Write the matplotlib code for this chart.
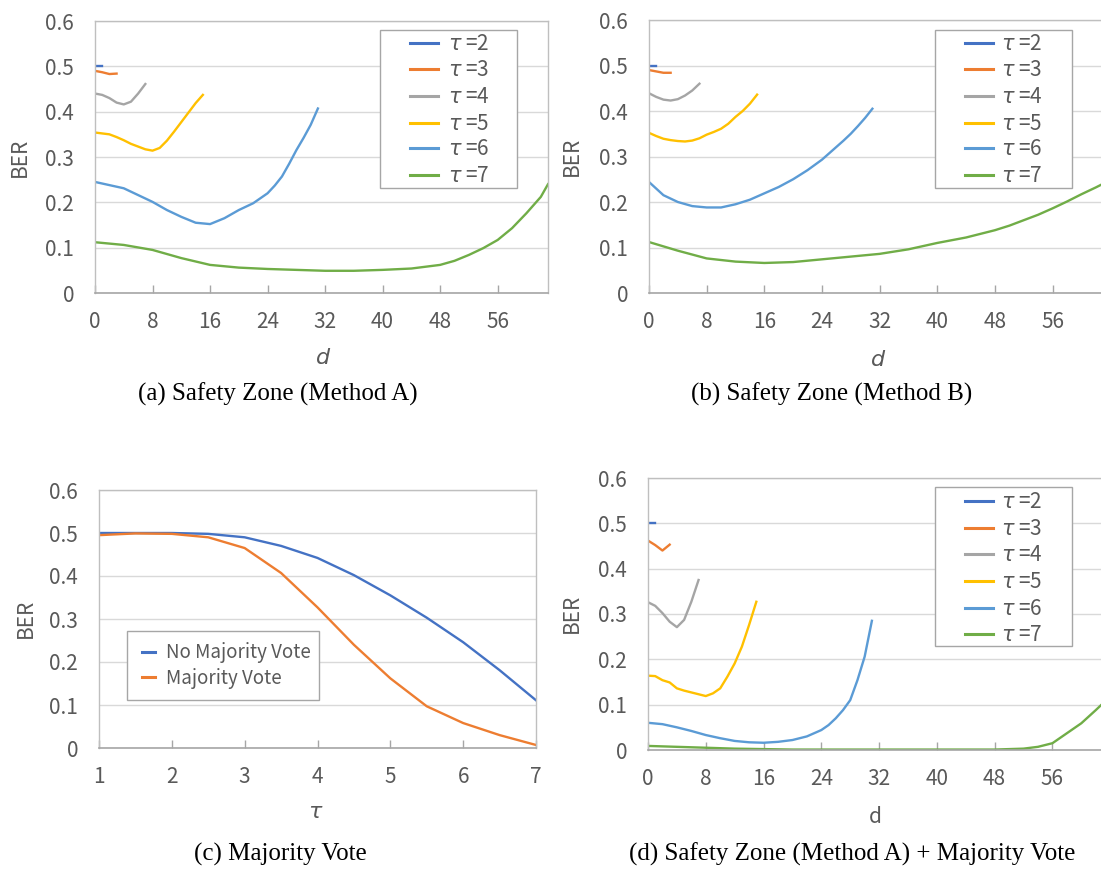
import matplotlib
matplotlib.use("Agg")
import matplotlib.pyplot as plt
from matplotlib.lines import Line2D
from matplotlib.patches import Rectangle
from matplotlib.ticker import FuncFormatter

W, H = 1101, 872
plt.rcParams['font.family'] = ['Noto Sans CJK JP', 'DejaVu Sans']

# ---- data: x positions (d) for each tau ----
d_t2 = [0, 1]
d_t3 = [0, 1, 2, 3]
d_t4 = [0, 1, 2, 3, 4, 5, 6, 7]
d_t5 = [0, 1, 2, 3, 4, 5, 6, 7, 8, 9, 10, 11, 12, 13, 14, 15]
d_t6 = [0, 2, 4, 6, 8, 10, 12, 14, 16, 18, 20, 22, 24, 25, 26, 27, 28, 29, 30, 31]
d_t7 = [0, 4, 8, 12, 16, 20, 24, 28, 32, 36, 40, 44, 48, 50, 52, 54, 56, 58, 60, 62, 63]

# (a) Safety Zone, Method A
ber_a2 = [0.500, 0.500]
ber_a3 = [0.490, 0.487, 0.483, 0.484]
ber_a4 = [0.440, 0.437, 0.430, 0.420, 0.416, 0.422, 0.440, 0.461]
ber_a5 = [0.354, 0.352, 0.350, 0.344, 0.337, 0.329, 0.323, 0.317,
          0.314, 0.320, 0.336, 0.356, 0.377, 0.398, 0.419, 0.437]
ber_a6 = [0.245, 0.238, 0.231, 0.216, 0.201, 0.183, 0.168, 0.155, 0.152, 0.165,
          0.183, 0.198, 0.220, 0.237, 0.257, 0.285, 0.315, 0.342, 0.371, 0.407]
ber_a7 = [0.112, 0.106, 0.095, 0.077, 0.062, 0.056, 0.053, 0.051, 0.049, 0.049, 0.051,
          0.054, 0.062, 0.071, 0.084, 0.099, 0.117, 0.143, 0.176, 0.212, 0.240]

# (b) Safety Zone, Method B
ber_b2 = [0.500, 0.500]
ber_b3 = [0.490, 0.487, 0.484, 0.484]
ber_b4 = [0.439, 0.431, 0.425, 0.423, 0.426, 0.434, 0.445, 0.460]
ber_b5 = [0.352, 0.345, 0.339, 0.336, 0.334, 0.333, 0.335, 0.340,
          0.348, 0.354, 0.361, 0.372, 0.387, 0.400, 0.416, 0.436]
ber_b6 = [0.244, 0.215, 0.200, 0.191, 0.188, 0.188, 0.195, 0.205, 0.219, 0.233,
          0.250, 0.270, 0.293, 0.307, 0.321, 0.335, 0.350, 0.367, 0.385, 0.405]
ber_b7 = [0.112, 0.093, 0.076, 0.069, 0.066, 0.068, 0.074, 0.080, 0.086, 0.096, 0.110,
          0.122, 0.138, 0.148, 0.160, 0.172, 0.186, 0.201, 0.217, 0.232, 0.240]

# (c) Majority vote
tau = [1, 1.5, 2, 2.5, 3, 3.5, 4, 4.5, 5, 5.5, 6, 6.5, 7]
ber_no_mv = [0.500, 0.500, 0.500, 0.498, 0.490, 0.470, 0.442, 0.402, 0.355,
             0.303, 0.246, 0.181, 0.111]
ber_mv = [0.495, 0.499, 0.498, 0.490, 0.465, 0.407, 0.327, 0.240, 0.162,
          0.097, 0.058, 0.030, 0.007]

# (d) Safety Zone Method A + majority vote
ber_d2 = [0.500, 0.500]
ber_d3 = [0.462, 0.452, 0.440, 0.453]
ber_d4 = [0.326, 0.318, 0.302, 0.283, 0.271, 0.287, 0.327, 0.375]
ber_d5 = [0.164, 0.163, 0.154, 0.149, 0.136, 0.131, 0.127, 0.123,
          0.119, 0.125, 0.136, 0.162, 0.191, 0.228, 0.276, 0.327]
ber_d6 = [0.060, 0.057, 0.050, 0.042, 0.033, 0.026, 0.020, 0.017, 0.016, 0.018,
          0.022, 0.030, 0.044, 0.055, 0.070, 0.088, 0.110, 0.154, 0.206, 0.285]
ber_d7 = [0.009, 0.007, 0.005, 0.003, 0.002, 0.001, 0.001, 0.001, 0.001, 0.001, 0.001,
          0.001, 0.001, 0.002, 0.003, 0.007, 0.015, 0.037, 0.059, 0.088, 0.103]

tau_labels = [r'$\tau$ =2', r'$\tau$ =3', r'$\tau$ =4', r'$\tau$ =5', r'$\tau$ =6', r'$\tau$ =7']
tau_colors = ['#4472C4', '#ED7D31', '#A5A5A5', '#FFC000', '#5B9BD5', '#70AD47']
mv_labels = ['No Majority Vote', 'Majority Vote']
mv_colors = ['#4472C4', '#ED7D31']

TXT = '#595959'

fig = plt.figure(figsize=(W / 100, H / 100), dpi=100)


def add_axes_px(l, t, r, b):
    return fig.add_axes([l / W, 1 - b / H, (r - l) / W, (b - t) / H])


def style(ax):
    ax.set_ylim(0, 0.6)
    ax.set_yticks([0, 0.1, 0.2, 0.3, 0.4, 0.5, 0.6])
    ax.yaxis.set_major_formatter(FuncFormatter(lambda v, _: '0' if v == 0 else '%.1f' % v))
    ax.grid(axis='y', color='#D9D9D9', lw=1.0)
    ax.set_axisbelow(True)
    for s in ['top', 'right', 'left']:
        ax.spines[s].set_color('#BFBFBF')
        ax.spines[s].set_linewidth(1.0)
    ax.spines['bottom'].set_color('#A6A6A6')
    ax.spines['bottom'].set_linewidth(1.2)
    ax.tick_params(axis='y', length=0, pad=15, labelsize=15, labelcolor=TXT)
    ax.tick_params(axis='x', direction='in', length=6, width=1.0, color='#A6A6A6',
                   pad=13, labelsize=15, labelcolor=TXT)


def px(x, y):
    return x / W, 1 - y / H


def draw_legend(frame, hx, tx, rows, labels, colors, size=15):
    l, t, r, b = frame
    x0, y0 = px(l, b)
    x1, y1 = px(r, t)
    fig.add_artist(Rectangle((x0, y0), x1 - x0, y1 - y0, transform=fig.transFigure,
                             facecolor='white', edgecolor='#A6A6A6', lw=1.0))
    for y, lab, c in zip(rows, labels, colors):
        a, yy = px(hx[0], y)
        bb, _ = px(hx[1], y)
        fig.add_artist(Line2D([a, bb], [yy, yy], transform=fig.transFigure, color=c, lw=2.2))
        tx0, ty0 = px(tx, y + 1)
        fig.text(tx0, ty0, lab, fontsize=size, color=TXT, va='center', ha='left')


def series_panel(ax, ys):
    for x, y, c in zip([d_t2, d_t3, d_t4, d_t5, d_t6, d_t7], ys, tau_colors):
        ax.plot(x, y, color=c, lw=1.7)
    ax.set_xlim(0, 63)
    ax.set_xticks(range(0, 57, 8))
    style(ax)


ital = dict(fontsize=16, family='DejaVu Sans', style='italic', color=TXT, va='center')

# (a)
ax_a = add_axes_px(95, 21, 548, 293)
series_panel(ax_a, [ber_a2, ber_a3, ber_a4, ber_a5, ber_a6, ber_a7])
ax_a.set_xlabel('d', **ital)
ax_a.xaxis.set_label_coords(0.503, -0.24)
ax_a.set_ylabel('BER', fontsize=15, color=TXT, va='center')
ax_a.yaxis.set_label_coords(-0.166, 0.5)

# (b)
ax_b = add_axes_px(649, 20, 1103, 293)
series_panel(ax_b, [ber_b2, ber_b3, ber_b4, ber_b5, ber_b6, ber_b7])
ax_b.set_xlabel('d', **ital)
ax_b.xaxis.set_label_coords(0.505, -0.245)
ax_b.set_ylabel('BER', fontsize=15, color=TXT, va='center')
ax_b.yaxis.set_label_coords(-0.17, 0.5)

# (c)
ax_c = add_axes_px(99, 490, 536, 748)
ax_c.plot(tau, ber_no_mv, color=mv_colors[0], lw=1.7)
ax_c.plot(tau, ber_mv, color=mv_colors[1], lw=1.7)
ax_c.set_xlim(1, 7)
ax_c.set_xticks([1, 2, 3, 4, 5, 6, 7])
style(ax_c)
ax_c.set_xlabel(r'$\tau$', fontsize=16, color=TXT, va='center')
ax_c.xaxis.set_label_coords(0.497, -0.248)
ax_c.set_ylabel('BER', fontsize=15, color=TXT, va='center')
ax_c.yaxis.set_label_coords(-0.167, 0.504)

# (d)
ax_d = add_axes_px(648, 478, 1103, 750)
series_panel(ax_d, [ber_d2, ber_d3, ber_d4, ber_d5, ber_d6, ber_d7])
ax_d.set_xlabel('d', fontsize=15, color=TXT, va='center')
ax_d.xaxis.set_label_coords(0.50, -0.246)
ax_d.set_ylabel('BER', fontsize=15, color=TXT, va='center')
ax_d.yaxis.set_label_coords(-0.168, 0.504)

# legends
draw_legend((380, 30, 517, 188), (410, 438), 448,
            [42.7, 69.3, 96, 122.7, 148.3, 175], tau_labels, tau_colors)
draw_legend((935, 30, 1072, 188), (965, 993), 1001,
            [42.7, 69.3, 96, 122.7, 148.3, 175], tau_labels, tau_colors)
draw_legend((935, 487, 1072, 646), (965, 993), 1001,
            [501, 527.7, 554.3, 581, 607.7, 634.3], tau_labels, tau_colors)
draw_legend((127, 631, 319, 700), (142, 155), 166,
            [651.7, 677.3], mv_labels, mv_colors, size=13.5)

# captions
cap = dict(fontsize=18, family='Liberation Serif', color='black', ha='center', va='center')
fig.text(*px(278, 394), '(a) Safety Zone (Method A)', **cap)
fig.text(*px(832, 394), '(b) Safety Zone (Method B)', **cap)
fig.text(*px(280, 854), '(c) Majority Vote', **cap)
fig.text(*px(852, 854), '(d) Safety Zone (Method A) + Majority Vote', **cap)

fig.savefig('out.png', dpi=100)
